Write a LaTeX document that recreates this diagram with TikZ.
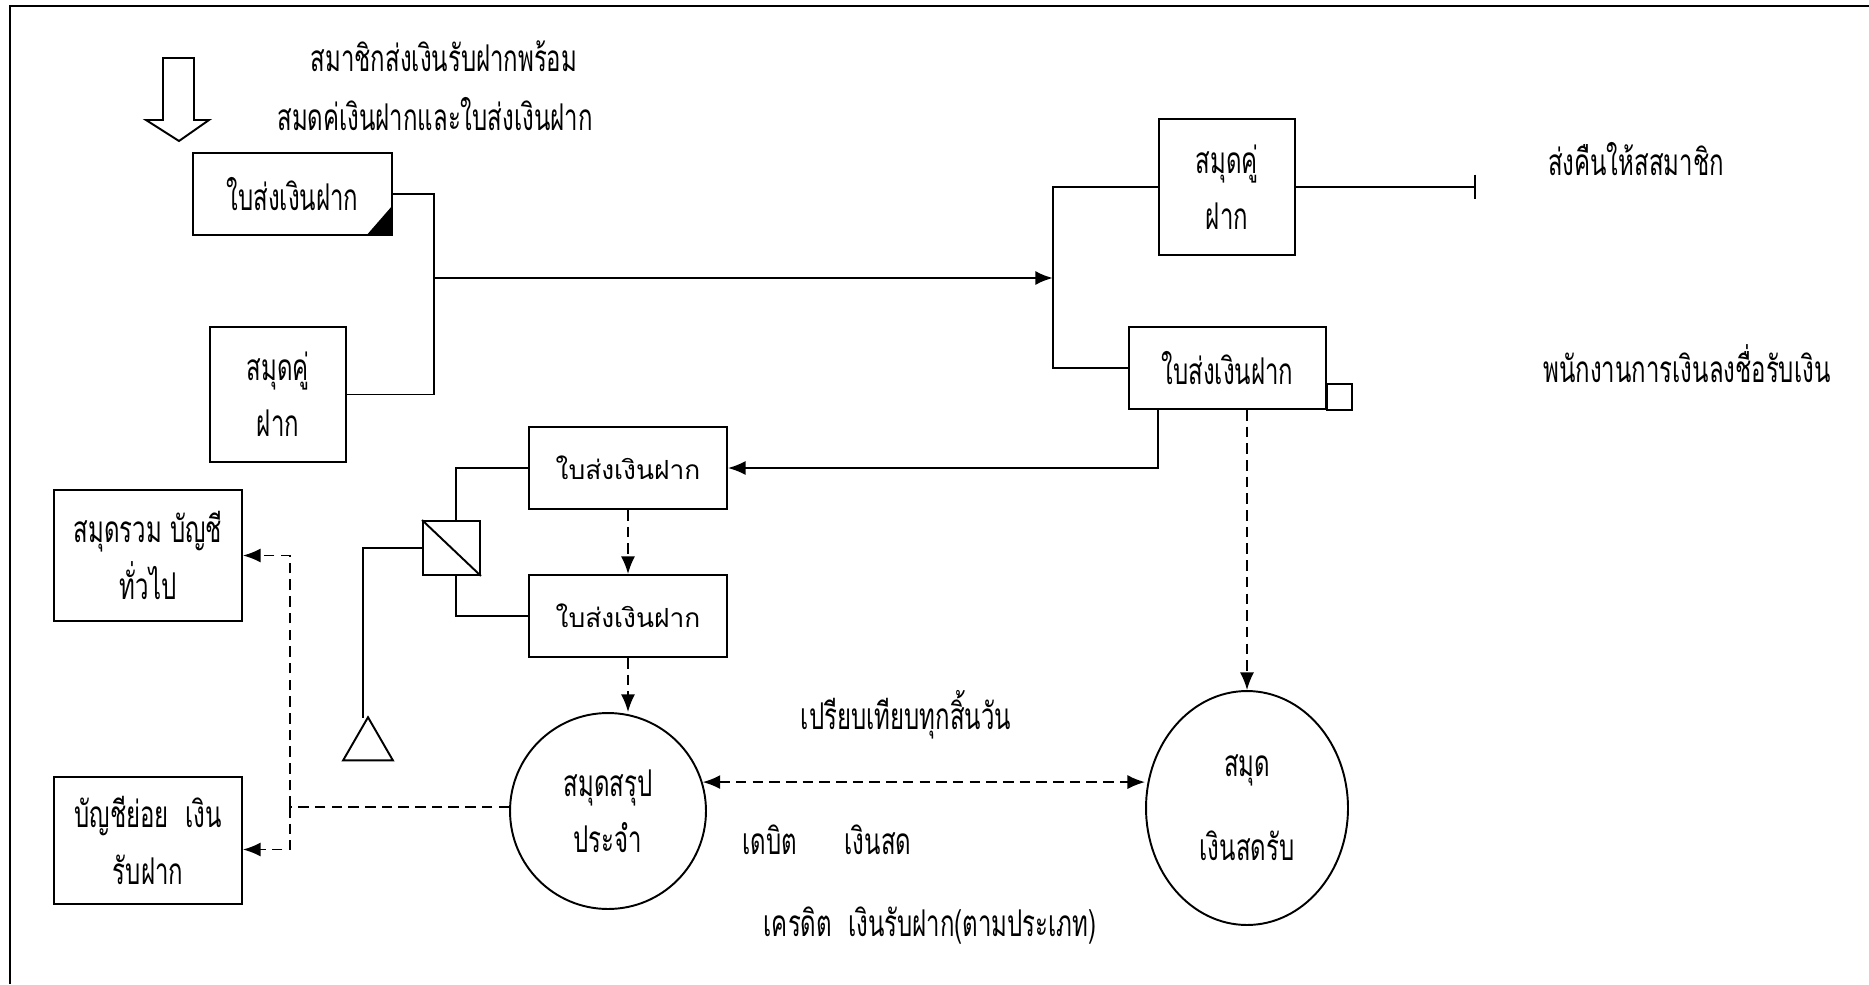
\documentclass[tikz,border=0pt]{standalone}
\usepackage{fontspec}
\newfontfamily\thai[Script=Thai,FakeStretch=0.65]{Loma}
\newfontfamily\thaisans[Script=Thai]{Loma}
\usetikzlibrary{arrows.meta,shapes.geometric}
\begin{document}
\begin{tikzpicture}[x=0.02cm,y=-0.02cm,line width=1.1pt]
  \tikzstyle{doc}=[draw,rectangle,font=\thai\fontsize{21}{32}\selectfont,align=center,inner sep=0pt]
  \tikzstyle{sdoc}=[draw,rectangle,font=\thaisans\fontsize{15}{20}\selectfont,minimum width=3.96cm,minimum height=1.64cm,inner sep=0pt]
  \tikzstyle{label}=[font=\thai\fontsize{21}{32}\selectfont,inner sep=0pt]
  \tikzstyle{arr}=[-{Latex[length=10pt,width=8pt]}]
  \tikzstyle{darr}=[dash pattern=on 6pt off 3.5pt,-{Latex[length=10pt,width=8pt]}]
  \useasboundingbox (0,0) rectangle (1869,984);
  % frame
  \draw[line width=1.4pt] (10,984) -- (10,6) -- (1869,6);
  % incoming
  \draw (163,58) -- (194,58) -- (194,120) -- (209,120) -- (179,141) -- (146,120) -- (163,120) -- cycle;
  \node[label] (head1) at (444,56) {สมาชิกส่งเงินรับฝากพร้อม};
  \node[label] (head2) at (435,114) {สมดค่เงินฝากและใบส่งเงินฝาก};
  \node[doc,minimum width=3.98cm,minimum height=1.64cm] (slip1) at (292.5,194) {ใบส่งเงินฝาก};
  \fill ([xshift=-0.54cm]slip1.south east) -- (slip1.south east) -- ([yshift=0.62cm]slip1.south east) -- cycle;
  \node[doc,minimum width=2.72cm,minimum height=2.7cm] (book1) at (278,394.5) {สมุดคู่\\ฝาก};
  % to the teller
  \coordinate (j1) at (434,278);
  \coordinate (j2) at (1053,278);
  \draw (slip1.east) -| (j1) |- (book1.east);
  \draw[arr,line width=1.5pt] (j1) -- (j2);
  \node[doc,minimum width=2.72cm,minimum height=2.72cm] (book2) at (1227,187) {สมุดคู่\\ฝาก};
  \node[doc,minimum width=3.94cm,minimum height=1.64cm] (slip2) at (1227.5,368) {ใบส่งเงินฝาก};
  \draw (slip2.south east) rectangle ++(25,-26);
  \draw (book2.west) -| (j2) |- (slip2.west);
  \coordinate (ret) at (1476,187);
  \draw[-{Bar[width=14pt]}] (book2.east) -- (ret);
  \node[label] (retlabel) at (1636,159) {ส่งคืนให้สสมาชิก};
  \node[label] (signlabel) at (1687,364) {พนักงานการเงินลงชื่อรับเงิน};
  % copies
  \node[sdoc] (slip3) at (628,468) {ใบส่งเงินฝาก};
  \node[sdoc] (slip4) at (628,616) {ใบส่งเงินฝาก};
  \draw[arr] ([xshift=0.6cm]slip2.south west) |- (slip3.east);
  \draw[darr] (slip3.south) -- (slip4.north);
  \node[draw,minimum width=1.14cm,minimum height=1.08cm,inner sep=0pt] (coll) at (451.5,548) {};
  \draw (coll.north west) -- (coll.south east);
  \draw (slip3.west) -| ([xshift=0.09cm]coll.north);
  \draw ([xshift=0.09cm]coll.south) |- (slip4.west);
  \node[draw,regular polygon,regular polygon sides=3,minimum size=1.15cm,inner sep=0pt] (file) at (368,746) {};
  \draw (coll.west) -| ([xshift=-0.1cm,yshift=-0.05cm]file.corner 1);
  % books
  \node[doc,circle,minimum size=3.92cm] (summary) at (608,811) {สมุดสรุป\\ประจำ};
  \node[doc,ellipse,minimum width=4.04cm,minimum height=4.68cm] (cashbook) at (1247,808) {สมุด\\[0.55cm]เงินสดรับ};
  \draw[darr] (slip4.south) -- (slip4.south |- summary.north);
  \draw[darr] (slip2.south -| cashbook.north) -- (cashbook.north);
  \draw[darr,{Latex[length=10pt,width=8pt]}-{Latex[length=10pt,width=8pt]}] (summary.17) -- (summary.17 -| cashbook.west);
  \node[label] (cmp) at (906,715) {เปรียบเทียบทุกสิ้นวัน};
  \node[label] (dr1) at (770,840) {เดบิต};
  \node[label] (dr2) at (878,840) {เงินสด};
  \node[label] (cr) at (930,926) {เครดิต\ \ เงินรับฝาก(ตามประเภท)};
  % ledgers
  \node[doc,minimum width=3.76cm,minimum height=2.62cm] (gl) at (148,555.5) {สมุดรวม บัญชี\\ทั่วไป};
  \node[doc,minimum width=3.76cm,minimum height=2.54cm] (sub) at (148,840.5) {บัญชีย่อย\ \ เงิน\\รับฝาก};
  \coordinate (jd) at (290,807);
  \draw[dash pattern=on 6pt off 3.5pt] (summary.west |- jd) -- (jd);
  \draw[darr] (jd) |- (gl.east);
  \draw[darr] (jd) |- ([yshift=-0.18cm]sub.east);
\end{tikzpicture}
\end{document}
